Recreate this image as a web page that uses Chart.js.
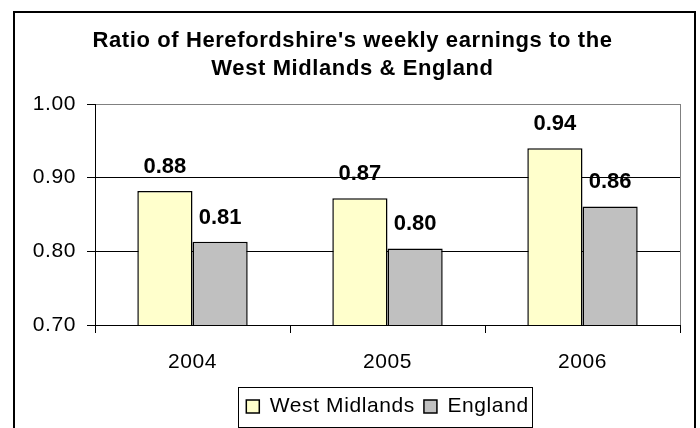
<!DOCTYPE html>
<html><head><meta charset="utf-8">
<script src="https://cdn.jsdelivr.net/npm/chart.js@4/dist/chart.umd.min.js"></script>
<style>html,body{margin:0;padding:0;background:#fff;} #wrap{width:700px;height:428px;position:relative;}</style>
</head><body><div id="wrap"><canvas id="c" width="700" height="428"></canvas></div>
<script>
const categories = ['2004', '2005', '2006'];
const westMidlands = [0.882, 0.872, 0.940];
const england = [0.813, 0.804, 0.861];
const seriesNames = ['West Midlands', 'England'];
const titleLines = ["Ratio of Herefordshire's weekly earnings to the", "West Midlands & England"];
const yMin = 0.70, yMax = 1.00, yStep = 0.10;

const FONT = "'Liberation Sans', Arial, sans-serif";
const SPACING = '0.6px';

const spacingPlugin = {
  id: 'spacing',
  beforeUpdate(chart) { chart.ctx.letterSpacing = SPACING; },
  beforeLayout(chart) { chart.ctx.letterSpacing = SPACING; },
  beforeDraw(chart) { chart.ctx.letterSpacing = SPACING; }
};

const framePlugin = {
  id: 'frame',
  beforeDatasetsDraw(chart) {
    const {ctx, chartArea: a} = chart;
    ctx.save();
    ctx.strokeStyle = '#808080';
    ctx.lineWidth = 1;
    ctx.beginPath();
    ctx.moveTo(Math.round(a.right) + 0.5, a.top);
    ctx.lineTo(Math.round(a.right) + 0.5, a.bottom);
    ctx.stroke();
    ctx.restore();
  },
  afterDraw(chart) {
    const ctx = chart.ctx;
    ctx.save();
    ctx.strokeStyle = '#000';
    ctx.lineWidth = 2;
    ctx.strokeRect(14, 12, 681, 440);
    const lg = chart.legend;
    if (lg && lg.legendHitBoxes && lg.legendHitBoxes.length) {
      const hb = lg.legendHitBoxes;
      const first = hb[0], last = hb[hb.length - 1];
      const cy = first.top + first.height / 2;
      ctx.lineWidth = 1;
      ctx.strokeRect(Math.round(first.left - 8) + 0.5, Math.round(cy - 20) + 0.5,
        Math.round(last.left + last.width + 4 - (first.left - 8)), 40);
    }
    ctx.restore();
  }
};

const labelPlugin = {
  id: 'barLabels',
  afterDatasetsDraw(chart) {
    const ctx = chart.ctx;
    ctx.save();
    ctx.letterSpacing = '0px';
    ctx.font = "bold 22px " + FONT;
    ctx.fillStyle = '#000';
    ctx.textAlign = 'center';
    ctx.textBaseline = 'middle';
    chart.data.datasets.forEach((ds, di) => {
      const meta = chart.getDatasetMeta(di);
      meta.data.forEach((bar, i) => {
        ctx.fillText(ds.data[i].toFixed(2), bar.x, bar.y - 24);
      });
    });
    ctx.restore();
  }
};

new Chart(document.getElementById('c'), {
  type: 'bar',
  data: {
    labels: categories,
    datasets: [
      { label: seriesNames[0], data: westMidlands, backgroundColor: '#FFFFCC', borderColor: '#000', borderWidth: 1.5, borderSkipped: false },
      { label: seriesNames[1], data: england, backgroundColor: '#C0C0C0', borderColor: '#000', borderWidth: 1.5, borderSkipped: false }
    ]
  },
  options: {
    responsive: false,
    animation: false,
    events: [],
    layout: { padding: { left: 25, right: 20, top: 0, bottom: 1 } },
    datasets: { bar: { categoryPercentage: 0.566, barPercentage: 1.0 } },
    plugins: {
      tooltip: { enabled: false },
      title: {
        display: true,
        text: titleLines,
        color: '#000',
        font: { family: FONT, size: 22, weight: 'bold', lineHeight: 28 / 22 },
        padding: { top: 27, bottom: 21 }
      },
      legend: {
        display: true,
        position: 'bottom',
        fullSize: false,
        labels: {
          color: '#000',
          font: { family: FONT, size: 21 },
          boxWidth: 13,
          boxHeight: 13,
          padding: 9
        }
      }
    },
    scales: {
      x: {
        type: 'category',
        offset: true,
        grid: { offset: true, drawOnChartArea: false, tickLength: 8, tickColor: '#000', color: '#000' },
        border: { color: '#000', width: 1 },
        ticks: { color: '#000', font: { family: FONT, size: 21 }, padding: 17, maxRotation: 0 },
        afterFit(scale) { scale.height = 62; }
      },
      y: {
        min: yMin,
        max: yMax,
        grid: {
          color: (c) => (c.tick && Math.abs(c.tick.value - yMax) < 1e-6) ? '#808080' : '#000',
          tickColor: '#000',
          tickLength: 8,
          lineWidth: 1
        },
        border: { color: '#000', width: 1 },
        ticks: {
          stepSize: yStep,
          color: '#000',
          padding: 11,
          font: { family: FONT, size: 21 },
          callback: (v) => Number(v).toFixed(2)
        },
        afterFit(scale) { scale.width = 70; }
      }
    }
  },
  plugins: [spacingPlugin, framePlugin, labelPlugin]
});
</script>
</body></html>
